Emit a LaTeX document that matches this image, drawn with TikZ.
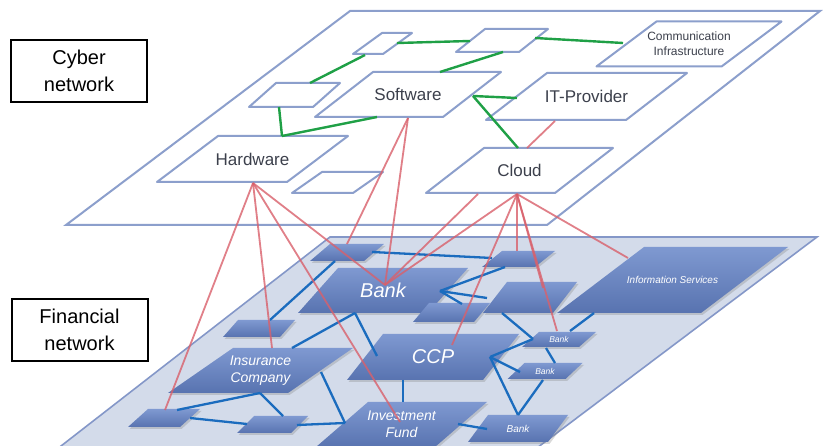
\documentclass[tikz,border=0pt]{standalone}
\usepackage{fontspec}
\setmainfont{Liberation Sans}
\usetikzlibrary{shadows}

\definecolor{cyberblue}{HTML}{8C9FCC}
\definecolor{cybertext}{HTML}{3C404C}
\definecolor{linkgreen}{HTML}{1FA046}
\definecolor{linkred}{HTML}{D9606B}
\definecolor{linkblue}{HTML}{1B6CBE}
\definecolor{planeblue}{HTML}{D3DBEA}
\definecolor{planeline}{HTML}{8497C8}
\definecolor{fintop}{HTML}{7F99D1}
\definecolor{finbottom}{HTML}{5873B0}

\newcommand{\slab}[8]{%
  \path[#1] ({#3-(#5+#7)/2},{#4+#6/2}) -- ({#3+(#5-#7)/2},{#4+#6/2})
    -- ({#3+(#5+#7)/2},{#4-#6/2}) -- ({#3-(#5-#7)/2},{#4-#6/2}) -- cycle;
  \node[#1 text] (#2) at (#3,#4) {#8};}

\tikzset{
  cyber/.style={draw=cyberblue, line width=2pt, fill=white, line join=round},
  cyber text/.style={text=cybertext, align=center, font=\fontsize{17}{20}\selectfont},
  cybersmall/.style={cyber},
  cybersmall text/.style={cyber text, font=\fontsize{12}{15}\selectfont},
  fin/.style={top color=fintop, bottom color=finbottom,
    drop shadow={opacity=0.3, shadow xshift=1.5pt, shadow yshift=-2pt}},
  fin text/.style={text=white, align=center, font=\itshape\fontsize{14}{17}\selectfont},
  greenlink/.style={linkgreen, line width=2.4pt},
  redlink/.style={linkred, line width=1.8pt, opacity=0.8},
  bluelink/.style={linkblue, line width=2.3pt},
  labelbox/.style={draw=black, line width=2pt, minimum width=136pt, minimum height=62pt,
    align=center, inner sep=0pt, font=\fontsize{20}{27}\selectfont}
}

\begin{document}
\begin{tikzpicture}[x=1pt,y=-1pt]
     \useasboundingbox (0,0) rectangle (823,446);

     \path[fill=white, draw=cyberblue, line width=2pt] (350,11) -- (820,11) -- (547,225) -- (66,225) -- cycle;
     \path[fill=planeblue, draw=planeline, line width=1.6pt] (330,237) -- (817,237) -- (521,460) -- (43,460) -- cycle;

     \node[labelbox] (cyberlabel) at (79,71) {Cyber\\network};
     \node[labelbox] (finlabel) at (79.5,330) {Financial\\network};

     \slab{cyber}{s1}{382.5}{43.5}{30}{21}{29}{}
     \slab{cyber}{s2}{502}{40.5}{63}{23}{29}{}
     \slab{cybersmall}{comm}{689}{44}{125}{45}{60}{Communication\\Infrastructure}
     \slab{cyber}{sw}{408}{94.5}{128}{45}{58}{Software}
     \slab{cyber}{itp}{586.5}{96.5}{140}{47}{61}{IT-Provider}
     \slab{cyber}{s3}{294.5}{95}{64}{24}{27}{}
     \slab{cyber}{hw}{252.5}{159}{130}{46}{61}{Hardware}
     \slab{cyber}{s4}{337.5}{182.5}{61}{21}{30}{}
     \slab{cyber}{cloud}{519.5}{170.5}{129}{45}{58}{Cloud}

     \slab{fin}{ftl}{347}{252.5}{54}{17}{20}{}
     \slab{fin}{ftr}{518.5}{259}{53}{16}{20}{}
     \slab{fin}{fml}{259}{328.5}{57}{17}{15}{}
     \slab{fin}{bank}{383}{290.5}{130}{45}{40}{\fontsize{20}{24}\selectfont Bank}
     \slab{fin}{fm3}{451.5}{312.5}{61}{19}{16}{}
     \slab{fin}{fm2}{530}{297.5}{70}{31}{24}{}
     \slab{fin}{ccp}{433}{357}{136}{46}{36}{\fontsize{20}{24}\selectfont CCP}
     \slab{fin}{info}{672.5}{280}{144}{66}{87}{\fontsize{10}{12}\selectfont Information Services}
     \slab{fin}{ins}{260.5}{370.5}{120}{45}{65}{Insurance\\Company}
     \slab{fin}{bk1}{559}{339.5}{57}{15}{17}{\fontsize{8.5}{10}\selectfont Bank}
     \slab{fin}{bk2}{545}{371}{58}{16}{17}{\fontsize{8.5}{10}\selectfont Bank}
     \slab{fin}{fbl}{164}{418}{52}{18}{20}{}
     \slab{fin}{fbm}{272.5}{424.5}{54}{17}{17}{}
     \slab{fin}{inv}{401.5}{424.5}{119}{45}{52}{Investment\\Fund}
     \slab{fin}{bk3}{518}{428.5}{80}{27}{20}{\fontsize{10}{12}\selectfont Bank}

     \coordinate (s1-r) at (397,43);
     \coordinate (s1-b) at (365,55);
     \coordinate (s2-l) at (470,41);
     \coordinate (s2-r) at (535,38);
     \coordinate (s2-b) at (503,52);
     \coordinate (comm-l) at (623,43);
     \coordinate (sw-t) at (440,72);
     \coordinate (sw-r) at (473,96);
     \coordinate (sw-b) at (377,117);
     \coordinate (sw-out) at (408,118);
     \coordinate (s3-t) at (310,83);
     \coordinate (s3-b) at (279,107);
     \coordinate (hw-t) at (282,136);
     \coordinate (hw-out) at (253,183);
     \coordinate (itp-l) at (517,98);
     \coordinate (itp-b) at (555,121);
     \coordinate (cloud-t) at (518,148);
     \coordinate (cloud-t2) at (527,148);
     \coordinate (cloud-out) at (517,194);
     \coordinate (cloud-bl) at (478,194);

     \coordinate (ftl-r) at (372,252);
     \coordinate (ftl-b) at (335,261);
     \coordinate (ftl-in) at (347,244);
     \coordinate (ftr-l) at (492,258);
     \coordinate (ftr-b) at (505,267);
     \coordinate (ftr-in) at (517,251);
     \coordinate (fml-t) at (270,320);
     \coordinate (bank-b) at (355,313);
     \coordinate (bank-r) at (440,291);
     \coordinate (bank-in) at (385,285);
     \coordinate (fm2-l) at (487,298);
     \coordinate (fm2-b) at (502,313);
     \coordinate (fm2-in) at (543,288);
     \coordinate (fm3-t) at (462,304);
     \coordinate (ccp-tl) at (377,356);
     \coordinate (ccp-b) at (403,380);
     \coordinate (ccp-r) at (490,357);
     \coordinate (ccp-in) at (452,345);
     \coordinate (ins-t) at (292,348);
     \coordinate (ins-r) at (321,372);
     \coordinate (ins-b) at (260,393);
     \coordinate (ins-in) at (272,348);
     \coordinate (inv-l) at (345,423);
     \coordinate (inv-t) at (403,402);
     \coordinate (inv-r) at (458,424);
     \coordinate (inv-in) at (400,422);
     \coordinate (fbl-t) at (177,410);
     \coordinate (fbl-r) at (190,418);
     \coordinate (fbl-in) at (165,410);
     \coordinate (fbm-t) at (283,416);
     \coordinate (fbm-l) at (247,424);
     \coordinate (fbm-r) at (297,425);
     \coordinate (bk1-l) at (533,339);
     \coordinate (bk1-b) at (546,348);
     \coordinate (bk1-r) at (570,331);
     \coordinate (bk1-in) at (557,331);
     \coordinate (bk2-l) at (520,372);
     \coordinate (bk2-t) at (555,363);
     \coordinate (bk2-b) at (543,380);
     \coordinate (bk3-l) at (487,429);
     \coordinate (bk3-t) at (518,415);
     \coordinate (info-b) at (594,313);
     \coordinate (info-in) at (628,258);

     \draw [greenlink] (s1-r) to (s2-l);
     \draw [greenlink] (s2-r) to (comm-l);
     \draw [greenlink] (s2-b) to (sw-t);
     \draw [greenlink] (s1-b) to (s3-t);
     \draw [greenlink] (s3-b) to (hw-t);
     \draw [greenlink] (hw-t) to (sw-b);
     \draw [greenlink] (sw-r) to (itp-l);
     \draw [greenlink] (sw-r) to (cloud-t);
     \draw [redlink] (itp-b) to (cloud-t2);

     \draw [bluelink] (ftl-r) to (ftr-l);
     \draw [bluelink] (ftl-b) to (fml-t);
     \draw [bluelink] (ins-t) to (bank-b);
     \draw [bluelink] (bank-b) to (ccp-tl);
     \draw [bluelink] (ins-r) to (inv-l);
     \draw [bluelink] (fbl-t) to (ins-b);
     \draw [bluelink] (ins-b) to (fbm-t);
     \draw [bluelink] (fbl-r) to (fbm-l);
     \draw [bluelink] (fbm-r) to (inv-l);
     \draw [bluelink] (ccp-b) to (inv-t);
     \draw [bluelink] (inv-r) to (bk3-l);
     \draw [bluelink] (bank-r) to (ftr-b);
     \draw [bluelink] (bank-r) to (fm2-l);
     \draw [bluelink] (bank-r) to (fm3-t);
     \draw [bluelink] (fm2-b) to (bk1-l);
     \draw [bluelink] (ccp-r) to (bk1-l);
     \draw [bluelink] (ccp-r) to (bk2-l);
     \draw [bluelink] (ccp-r) to (bk3-t);
     \draw [bluelink] (bk1-b) to (bk2-t);
     \draw [bluelink] (bk2-b) to (bk3-t);
     \draw [bluelink] (bk1-r) to (info-b);

     \draw [redlink] (hw-out) to (fbl-in);
     \draw [redlink] (hw-out) to (ins-in);
     \draw [redlink] (hw-out) to (inv-in);
     \draw [redlink] (hw-out) to (bank-in);
     \draw [redlink] (sw-out) to (ftl-in);
     \draw [redlink] (sw-out) to (bank-in);
     \draw [redlink] (cloud-bl) to (bank-in);
     \draw [redlink] (cloud-out) to (bank-in);
     \draw [redlink] (cloud-out) to (ccp-in);
     \draw [redlink] (cloud-out) to (ftr-in);
     \draw [redlink] (cloud-out) to (fm2-in);
     \draw [redlink] (cloud-out) to (bk1-in);
     \draw [redlink] (cloud-out) to (info-in);
   \end{tikzpicture}
\end{document}
